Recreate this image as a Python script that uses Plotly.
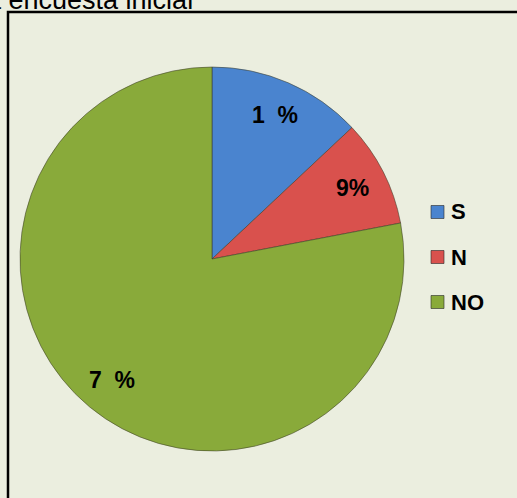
import math
import plotly.graph_objects as go

categories = ["S", "N", "NO"]
values = [13, 9, 78]
text_labels = ["1  %", "9%", "7  %"]
colors = ["#4a84cf", "#d9514d", "#89aa3a"]
title_text = "a encuesta inicial"

W, H = 517, 498
bg = "#ebeedf"

# pie geometry (pixels)
cx, cy, R = 212, 259, 192

fig = go.Figure()
fig.add_trace(go.Pie(
    labels=categories, values=values, sort=False, direction="clockwise", rotation=0,
    marker=dict(colors=colors, line=dict(color="rgba(60,60,40,0.55)", width=1)),
    textinfo="none", hoverinfo="label+percent", showlegend=False,
    domain=dict(x=[(cx - R) / W, (cx + R) / W], y=[(H - cy - R) / H, (H - cy + R) / H]),
))

annotations = []
total = sum(values)
cum = 0
for v, t in zip(values, text_labels):
    mid = (cum + v / 2) / total * 2 * math.pi
    cum += v
    r = 0.82 * R
    px = cx + r * math.sin(mid)
    py = cy - r * math.cos(mid)
    annotations.append(dict(x=px / W, y=1 - py / H, xref="paper", yref="paper", text=f"<b>{t}</b>",
                            showarrow=False, font=dict(family="Liberation Sans, Arial", size=23, color="black"),
                            xanchor="center", yanchor="middle"))

# title (cut off at top, as in the reference)
annotations.append(dict(x=195 / W, y=1 + 0 / H, xref="paper", yref="paper", text=title_text, showarrow=False,
                        font=dict(family="Liberation Sans, Arial", size=27, color="black"),
                        xanchor="right", yanchor="middle"))

shapes = [dict(type="rect", xref="paper", yref="paper", x0=8 / W, x1=1.05, y0=-0.05, y1=1 - 12 / H,
               line=dict(color="black", width=2.5), fillcolor="rgba(0,0,0,0)", layer="below")]

# legend
leg_y = [212, 257, 302]
for cat, col, ly in zip(categories, colors, leg_y):
    shapes.append(dict(type="rect", xref="paper", yref="paper", x0=431 / W, x1=444 / W,
                       y0=1 - (ly + 6.5) / H, y1=1 - (ly - 6.5) / H,
                       fillcolor=col, line=dict(color="rgba(40,40,40,0.6)", width=1)))
    annotations.append(dict(x=449 / W, y=1 - ly / H, xref="paper", yref="paper", text=f"<b>{cat}</b>",
                            showarrow=False, font=dict(family="Liberation Sans, Arial", size=22, color="black"),
                            xanchor="left", yanchor="middle"))

fig.update_layout(width=W, height=H, margin=dict(l=0, r=0, t=0, b=0),
                  paper_bgcolor=bg, plot_bgcolor=bg, annotations=annotations, shapes=shapes,
                  showlegend=False)
fig.write_html("out.html", config={"displayModeBar": False},
               post_script="document.body.style.margin='0';document.body.style.padding='0';"
                           "document.body.style.overflow='hidden';document.body.style.background='" + bg + "';")
